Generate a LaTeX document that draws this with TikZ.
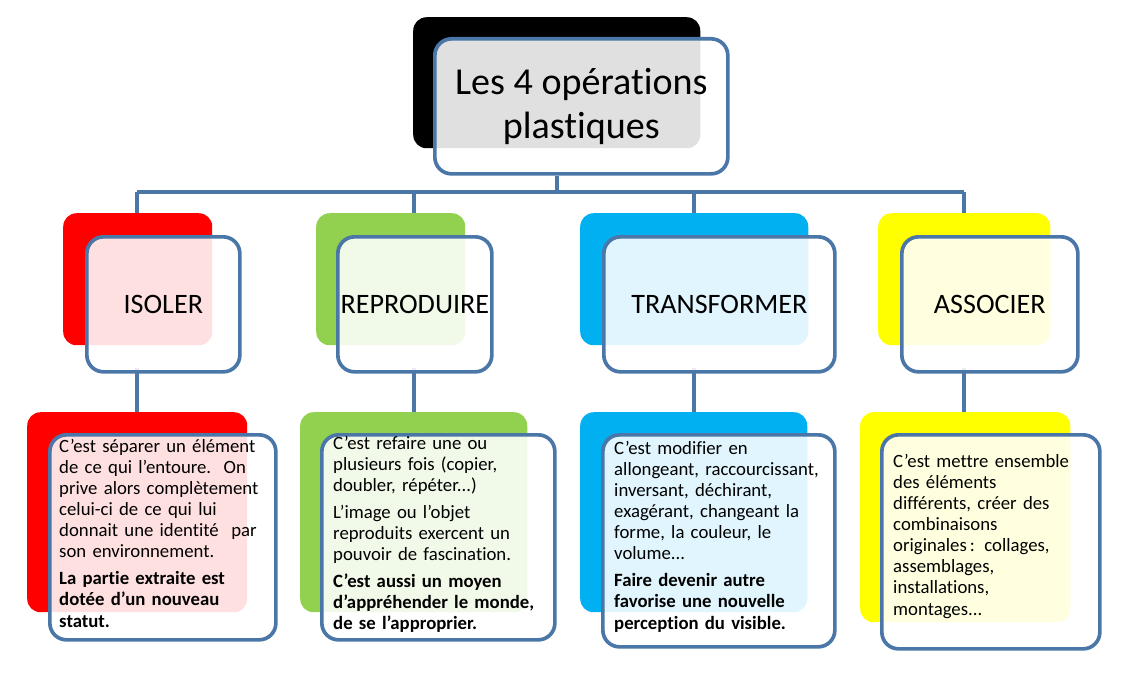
\documentclass[tikz,border=0pt]{standalone}
\usepackage{fontspec}
\setmainfont[Ligatures=NoCommon]{Carlito}
\usetikzlibrary{positioning}
\definecolor{lineBlue}{RGB}{74, 118, 168}
\definecolor{isoRed}{RGB}{255, 0, 0}
\definecolor{repGreen}{RGB}{146, 208, 80}
\definecolor{traCyan}{RGB}{0, 176, 240}
\definecolor{assYellow}{RGB}{255, 255, 0}
\tikzset{
  back/.style = {rectangle, rounded corners=4mm, anchor=north west, inner sep=0pt},
  front/.style = {rectangle, rounded corners=5mm, anchor=north west, inner sep=0pt, draw=lineBlue, line width=1.1mm, fill=white, fill opacity=0.88, text opacity=1},
  link/.style = {draw=lineBlue, line width=1.1mm},
  txt/.style = {anchor=north west, inner sep=0pt, text width=7cm, align=left, font=\fontsize{16}{18}\selectfont},
  lbl/.style = {font=\fontsize{24}{28}\selectfont}
}
\begin{document}
\begin{tikzpicture}[x=0.03cm, y=-0.03cm]
\useasboundingbox (0,0) rectangle (1122,677);

% title
\node (titleBack) [back, fill=black, minimum width=8.61cm, minimum height=3.93cm] at (413,17) {};
\node (title) [front, minimum width=8.79cm, minimum height=4.05cm, align=center, font=\fontsize{32.5}{38}\selectfont] at (433,37) {Les 4 opérations\\plastiques};

% second level backs
\node (isoBack) [back, fill=isoRed, minimum width=4.47cm, minimum height=3.96cm] at (63,213) {};
\node (repBack) [back, fill=repGreen, minimum width=4.47cm, minimum height=3.96cm] at (316,213) {};
\node (traBack) [back, fill=traCyan, minimum width=6.84cm, minimum height=3.96cm] at (580,213) {};
\node (assBack) [back, fill=assYellow, minimum width=5.16cm, minimum height=3.96cm] at (878,213) {};

% third level backs
\node (isoNoteBack) [back, fill=isoRed, minimum width=6.6cm, minimum height=6.0cm] at (27,412) {};
\node (repNoteBack) [back, fill=repGreen, minimum width=6.81cm, minimum height=6.0cm] at (300,412) {};
\node (traNoteBack) [back, fill=traCyan, minimum width=6.81cm, minimum height=6.0cm] at (580,412) {};
\node (assNoteBack) [back, fill=assYellow, minimum width=6.3cm, minimum height=6.3cm] at (860,412) {};

% connectors
\coordinate (isoTop) at (137,192);
\coordinate (repTop) at (414,192);
\coordinate (traTop) at (694,192);
\coordinate (assTop) at (964,192);
\draw [link] (title.south -| 557,0) -- (557,192);
\draw [link] (isoTop) -- (assTop);
\draw [link] (isoTop) -- (isoTop |- isoBack.north);
\draw [link] (repTop) -- (repTop |- repBack.north);
\draw [link] (traTop) -- (traTop |- traBack.north);
\draw [link] (assTop) -- (assTop |- assBack.north);
\draw [link] (isoTop |- 0,368) -- (isoTop |- isoNoteBack.north);
\draw [link] (repTop |- 0,368) -- (repTop |- repNoteBack.north);
\draw [link] (traTop |- 0,368) -- (traTop |- traNoteBack.north);
\draw [link] (assTop |- 0,368) -- (assTop |- assNoteBack.north);

% second level fronts
\node (iso) [front, lbl, minimum width=4.59cm, minimum height=4.05cm] at (85,235) {ISOLER};
\node (rep) [front, lbl, minimum width=4.62cm, minimum height=4.05cm] at (336,235) {REPRODUIRE};
\node (tra) [front, lbl, minimum width=6.93cm, minimum height=4.05cm] at (602,235) {TRANSFORMER};
\node (ass) [front, lbl, minimum width=5.28cm, minimum height=4.05cm] at (900,235) {ASSOCIER};

% third level fronts
\node (isoNote) [front, minimum width=6.78cm, minimum height=6.15cm] at (48,433) {};
\node (repNote) [front, minimum width=6.99cm, minimum height=6.15cm] at (320,433) {};
\node (traNote) [front, minimum width=6.96cm, minimum height=6.36cm] at (601,433) {};
\node (assNote) [front, minimum width=6.54cm, minimum height=6.42cm] at (880,433) {};

\node (isoText) [txt] at (59,439) {C'est séparer\ un élément\\de ce qui l'entoure.\ \ On\\prive alors complètement\\celui-ci de ce qui lui\\donnait une identité\ \ par\\son environnement.\par\vspace{5pt}\textbf{La partie extraite est\\dotée d'un nouveau\\statut.}};
\node (repText) [txt] at (333,436) {C'est refaire une ou\\plusieurs fois (copier,\\doubler, répéter...)\par\vspace{5pt}L'image ou l'objet\\reproduits exercent\ un\\pouvoir de fascination.\par\vspace{5pt}\textbf{C'est aussi un moyen\\d'appréhender le monde,\\de se l'approprier.}};
\node (traText) [txt] at (614,441) {C'est modifier\ en\\allongeant,\ raccourcissant,\\inversant, déchirant,\\exagérant, changeant\ la\\forme, la couleur, le\\volume...\par\vspace{5pt}\textbf{Faire devenir autre\\favorise une nouvelle\\perception du visible.}};
\node (assText) [txt] at (893,454) {C'est mettre ensemble\\des éléments\\différents, créer des\\combinaisons\\originales\,: collages,\\assemblages,\\installations,\\montages...};

\end{tikzpicture}
\end{document}
